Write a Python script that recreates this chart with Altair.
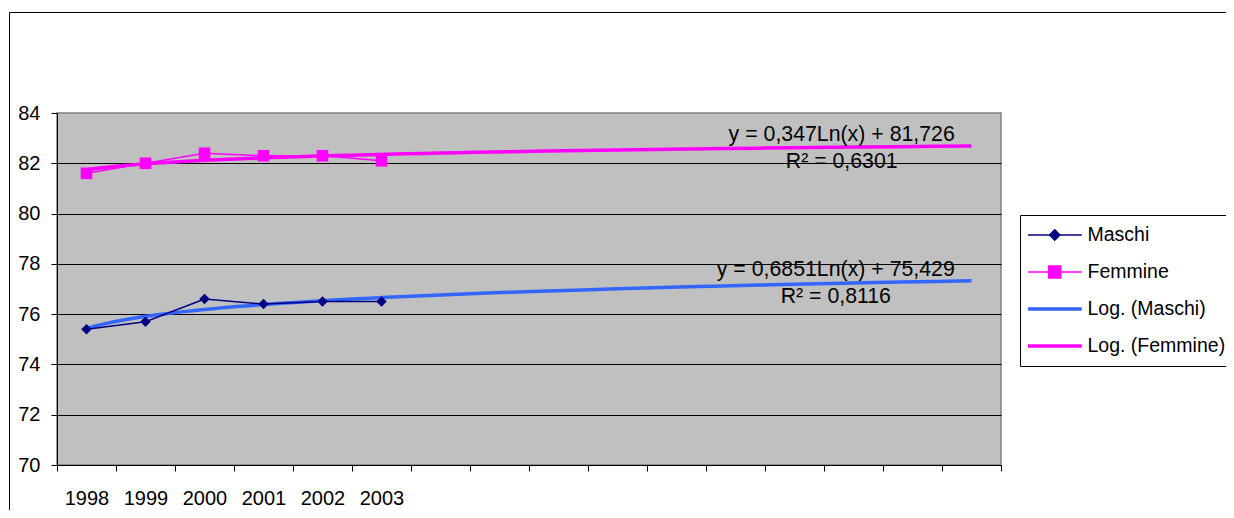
import json
import altair as alt
import pandas as pd

# ---------------- data ----------------
categories = ["1998", "1999", "2000", "2001", "2002", "2003"] + [""] * 10
years = categories[:6]
maschi = [75.4, 75.7, 76.6, 76.4, 76.5, 76.5]
femmine = [81.6, 82.0, 82.4, 82.3, 82.3, 82.1]
series_names = ["Maschi", "Femmine"]
legend_labels = ["Maschi", "Femmine", "Log. (Maschi)", "Log. (Femmine)"]
legend_colors = ["#000080", "#FF00FF", "#3366FF", "#FF00FF"]
y_ticks = [70, 72, 74, 76, 78, 80, 82, 84]

# trend-line equation labels (as displayed), anchored in data units
eq_texts = ["y = 0,347Ln(x) + 81,726\nR² = 0,6301",
            "y = 0,6851Ln(x) + 75,429\nR² = 0,8116"]
eq_x = [13.80, 13.70]
eq_y = [82.89, 77.52]

FONT = "Liberation Sans, Arial, sans-serif"

rows = []
for name, vals in zip(series_names, [maschi, femmine]):
    for i, v in enumerate(vals):
        rows.append({"x": i + 1, "value": v, "series": name, "label": name})
df = pd.DataFrame(rows)

eq_df = pd.DataFrame({"x": eq_x, "value": eq_y, "txt": eq_texts})

n_cat = len(categories)
W, H = 944, 352

x_scale = alt.Scale(domain=[0.5, n_cat + 0.5], nice=False, zero=False)
y_scale = alt.Scale(domain=[min(y_ticks), max(y_ticks)], nice=False, zero=False)
color_scale = alt.Scale(domain=legend_labels, range=legend_colors)

x_axis = alt.Axis(
    values=[i + 0.5 for i in range(n_cat + 1)],
    labelExpr=f"{json.dumps(categories)}[datum.value - 0.5] || ''",
    labelOffset=W / n_cat / 2,
    tickSize=6, tickColor="black", domainColor="black",
    labelFontSize=20, labelFont=FONT, labelColor="black",
    labelPadding=17, grid=False, title=None,
    labelOverlap=False, labelFlush=False,
)
y_axis = alt.Axis(
    values=y_ticks, tickSize=6, tickColor="black", domainColor="black",
    labelFontSize=20, labelFont=FONT, labelColor="black", labelPadding=11,
    grid=True, gridColor="black", gridWidth=1,
    gridOpacity={"condition": {"test": f"datum.value >= {max(y_ticks)}", "value": 0}, "value": 1},
    title=None,
)

X = alt.X("x:Q", scale=x_scale, axis=x_axis)
Y = alt.Y("value:Q", scale=y_scale, axis=y_axis)

log_labels = legend_labels[2:]
sym_expr = (
    f"datum.value == {json.dumps(series_names[0])} ? 'M-1,0L1,0M0,-0.19L0.19,0L0,0.19L-0.19,0Z' : "
    f"datum.value == {json.dumps(series_names[1])} ? 'M-1,0L1,0M-0.22,-0.22L0.22,-0.22L0.22,0.22L-0.22,0.22Z' : "
    "'M-1,0L1,0'"
)
sw_expr = f"indexof({json.dumps(log_labels)}, datum.value) >= 0 ? 3.5 : 1.5"

legend = alt.Legend(
    title=None, orient="none", direction="vertical",
    legendX=963, legendY=102,
    symbolType={"expr": sym_expr},
    symbolStrokeWidth={"expr": sw_expr},
    symbolFillColor={"expr": "scale('color', datum.value)"},
    symbolSize=2916, symbolOpacity=1, symbolOffset=17,
    clipHeight=24, rowPadding=13, padding=8, labelOffset=23,
    labelFontSize=19.5, labelFont=FONT, labelColor="black", labelLimit=400,
    strokeColor="black", fillColor="white", cornerRadius=0,
)
C = alt.Color("label:N", scale=color_scale, legend=legend)

base = alt.Chart(df)

trend = base.transform_regression(
    "x", "value", method="log", groupby=["series"], extent=[1, n_cat]
).transform_calculate(
    label="'Log. (' + datum.series + ')'"
).mark_line(strokeWidth=3.5).encode(x=X, y=Y, color=C, detail="series:N")

lines = base.mark_line(strokeWidth=1.5).encode(x=X, y=Y, color=C)

pts_m = base.transform_filter(f"datum.series == {json.dumps(series_names[0])}").mark_point(
    shape="diamond", filled=True, opacity=1, size=110, color=legend_colors[0]
).encode(x=X, y=Y)

pts_f = base.transform_filter(f"datum.series == {json.dumps(series_names[1])}").mark_point(
    shape="square", filled=True, opacity=1, size=135, color=legend_colors[1]
).encode(x=X, y=Y)

eqs = alt.Chart(eq_df).mark_text(
    align="center", baseline="alphabetic", lineBreak="\n", lineHeight=27,
    fontSize=21.3, font=FONT, color="black",
).encode(x=X, y=Y, text="txt:N")

frame = alt.Chart(alt.Data(values=[{"a": 1}])).mark_rect(
    fill="transparent", stroke="black", strokeWidth=1
).encode(
    x=alt.value(-47.5), x2=alt.value(1400), y=alt.value(-100.5), y2=alt.value(700)
)

chart = alt.layer(trend, lines, pts_m, pts_f, eqs, frame).properties(
    width=W, height=H,
    background="white",
    autosize=alt.AutoSizeParams(type="none"),
    padding={"left": 49, "top": 105, "right": 225, "bottom": 45},
).configure_view(
    fill="#C0C0C0", stroke="#808080", strokeWidth=1.5
)

chart.save("out.html", embed_options={"renderer": "svg", "actions": False})
